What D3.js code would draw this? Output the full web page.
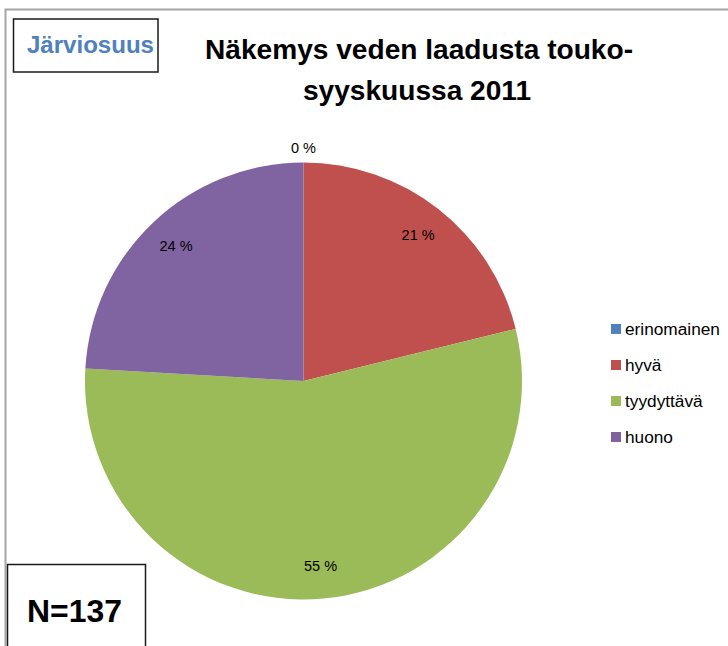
<!DOCTYPE html>
<html><head><meta charset="utf-8">
<script src="https://cdn.jsdelivr.net/npm/d3@7"></script>
<style>html,body{margin:0;padding:0;background:#fff;}svg{display:block;}</style>
</head><body>
<svg id="c" width="728" height="646"></svg>
<script>
const categories = ["erinomainen", "hyvä", "tyydyttävä", "huono"];
const counts = [0, 29, 75, 33];
const colors = ["#4F81BD", "#C0504D", "#9BBB59", "#8064A2"];
const titleLines = ["Näkemys veden laadusta touko-", "syyskuussa 2011"];
const areaLabel = "Järviosuus";
const nLabel = "N=137";

const svg = d3.select("#c");
const font = "'Liberation Sans', Arial, sans-serif";

function fit(sel, w) {
  const node = sel.node();
  const fs = parseFloat(sel.attr("font-size"));
  const len = node.getComputedTextLength();
  sel.attr("font-size", (fs * w / len).toFixed(2));
}

// outer frame
svg.append("path").attr("d", "M5.5,646 L5.5,9.5 L728,9.5")
  .attr("fill", "none").attr("stroke", "#a6a6a6").attr("stroke-width", 2);

// pie
const total = d3.sum(counts);
const cx = 303.5, cy = 381, R = 218.5;
const pie = d3.pie().sort(null).value(d => d)(counts);
const arc = d3.arc().innerRadius(0).outerRadius(R);
const g = svg.append("g").attr("transform", `translate(${cx},${cy})`);
g.selectAll("path.slice").data(pie).join("path").attr("class", "slice")
  .attr("d", arc).attr("fill", (d, i) => colors[i]);

const pct = d3.format(".0f");
g.selectAll("text.lbl").data(pie).join("text").attr("class", "lbl")
  .each(function(d) {
    const a = (d.startAngle + d.endAngle) / 2;
    const r = d.value === 0 ? R + 15 : R * 0.85;
    d3.select(this).attr("x", Math.sin(a) * r).attr("y", -Math.cos(a) * r);
  })
  .attr("text-anchor", "middle").attr("dominant-baseline", "central")
  .attr("font-family", font).attr("font-size", 14.5).attr("fill", "#000")
  .text(d => pct(d.value / total * 100) + " %");

// title
const t1 = svg.append("text").attr("x", 419).attr("y", 59).attr("text-anchor", "middle")
  .attr("font-family", font).attr("font-weight", "bold").attr("font-size", 26).text(titleLines[0]);
fit(t1, 428);
const t2 = svg.append("text").attr("x", 417).attr("y", 100).attr("text-anchor", "middle")
  .attr("font-family", font).attr("font-weight", "bold").attr("font-size", t1.attr("font-size")).text(titleLines[1]);

// Järviosuus box
svg.append("rect").attr("x", 13.5).attr("y", 19).attr("width", 144.5).attr("height", 53)
  .attr("fill", "#fff").attr("stroke", "#1a1a1a").attr("stroke-width", 1.5);
const ta = svg.append("text").attr("x", 27).attr("y", 53)
  .attr("font-family", font).attr("font-weight", "bold").attr("font-size", 20)
  .attr("fill", "#4F81BD").text(areaLabel);
fit(ta, 127);

// N box
svg.append("rect").attr("x", 7.5).attr("y", 564.5).attr("width", 138).attr("height", 100)
  .attr("fill", "#fff").attr("stroke", "#1a1a1a").attr("stroke-width", 1.5);
const tn = svg.append("text").attr("x", 27).attr("y", 622)
  .attr("font-family", font).attr("font-weight", "bold").attr("font-size", 28).text(nLabel);
fit(tn, 95);

// legend
const lg = svg.append("g");
const items = lg.selectAll("g").data(categories).join("g")
  .attr("transform", (d, i) => `translate(611,${329 + i * 36})`);
items.append("rect").attr("x", 0).attr("y", -5).attr("width", 10).attr("height", 10)
  .attr("fill", (d, i) => colors[i]);
const lt = items.append("text").attr("x", 14).attr("y", 0).attr("dominant-baseline", "central")
  .attr("font-family", font).attr("font-size", 14).attr("fill", "#000").text(d => d);
fit(d3.select(lt.nodes()[0]), 95);
lt.attr("font-size", d3.select(lt.nodes()[0]).attr("font-size"));
</script>
</body></html>
